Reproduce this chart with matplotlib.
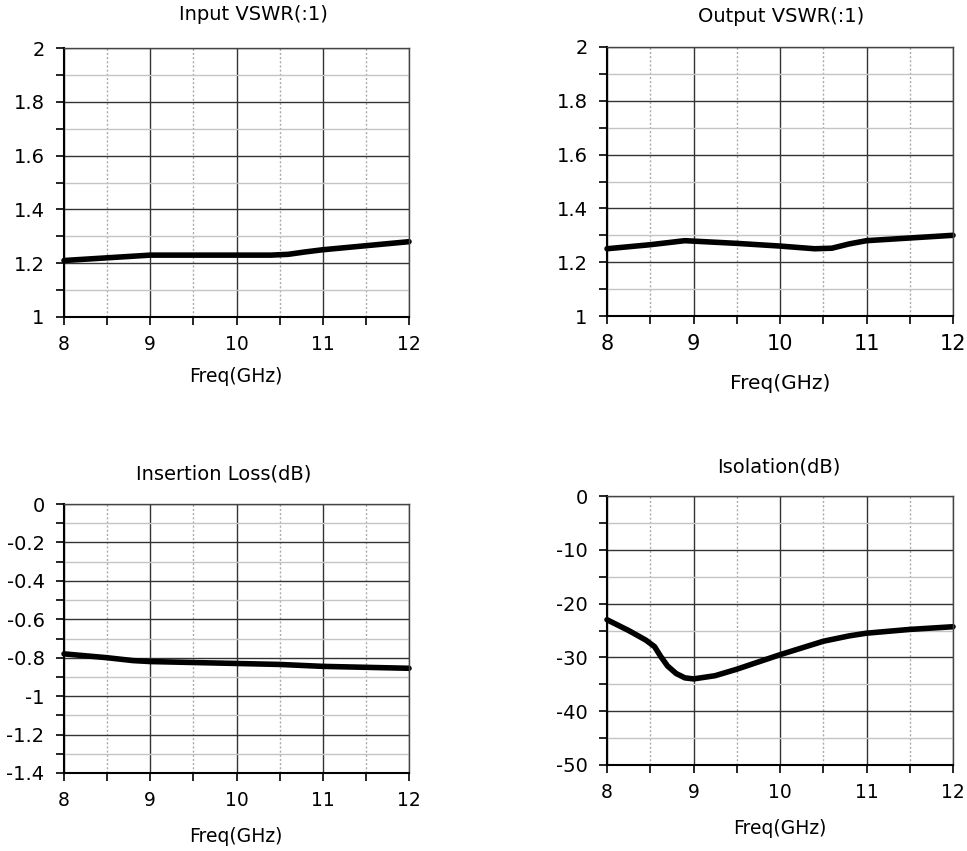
import matplotlib
matplotlib.use('Agg')
from matplotlib import pyplot as plt
from matplotlib.ticker import MultipleLocator, FuncFormatter

W, H = 967, 851

# data
freq_in = [8, 8.5, 9, 9.5, 10, 10.4, 10.6, 10.8, 11, 11.5, 12]
vswr_in = [1.21, 1.22, 1.23, 1.23, 1.23, 1.23, 1.233, 1.242, 1.25, 1.265, 1.28]

freq_out = [8, 8.5, 8.9, 9.5, 10, 10.4, 10.6, 10.8, 11, 11.5, 12]
vswr_out = [1.25, 1.265, 1.28, 1.27, 1.26, 1.25, 1.252, 1.268, 1.28, 1.29, 1.30]

freq_il = [8, 8.5, 8.8, 9, 10, 10.5, 11, 11.5, 12]
loss_il = [-0.78, -0.80, -0.815, -0.82, -0.83, -0.835, -0.845, -0.85, -0.855]

freq_iso = [8, 8.25, 8.45, 8.55, 8.62, 8.7, 8.8, 8.9, 9, 9.25, 9.5, 10, 10.5, 10.8, 11, 11.5, 12]
iso = [-23, -25, -26.8, -28, -29.8, -31.6, -33, -33.8, -34, -33.4, -32.2, -29.5, -27, -26, -25.5, -24.8, -24.3]

x_ticks = [8, 9, 10, 11, 12]

fig = plt.figure(figsize=(W / 100, H / 100), dpi=100)


def px_axes(l, t, r, b):
    return fig.add_axes([l / W, 1 - b / H, (r - l) / W, (b - t) / H])


def fmt(v, pos):
    s = ('%.1f' % v).rstrip('0').rstrip('.')
    return '0' if s == '-0' else s


def setup(ax, ylim, ymaj, xsize):
    ax.set_xlim(8, 12)
    ax.set_ylim(*ylim)
    ax.set_xticks(x_ticks)
    ax.xaxis.set_minor_locator(MultipleLocator(0.5))
    ax.yaxis.set_major_locator(MultipleLocator(ymaj))
    ax.yaxis.set_minor_locator(MultipleLocator(ymaj / 2))
    ax.yaxis.set_major_formatter(FuncFormatter(fmt))
    ax.grid(which='major', color='#333333', lw=1.0)
    ax.grid(which='minor', axis='y', color='#c4c4c4', lw=1.0)
    ax.grid(which='minor', axis='x', color='#aaaaaa', lw=1.0, ls=(0, (1.5, 1.5)))
    ax.set_axisbelow(True)
    ax.tick_params(which='both', direction='out', length=6, width=1.2, color='black')
    ax.tick_params(axis='y', labelsize=14, pad=8)
    ax.tick_params(axis='x', labelsize=xsize, pad=7)
    for s in ['left', 'bottom']:
        ax.spines[s].set_color('black')
        ax.spines[s].set_linewidth(1.5)
    for s in ['top', 'right']:
        ax.spines[s].set_color('#444444')
        ax.spines[s].set_linewidth(1.0)


def label(x, y, s, size):
    fig.text(x / W, 1 - y / H, s, ha='center', va='center', fontsize=size)


line = dict(color='black', lw=4, solid_joinstyle='round', solid_capstyle='round', clip_on=False)

ax1 = px_axes(64, 48, 409, 317)
setup(ax1, (1, 2), 0.2, 13.5)
ax1.plot(freq_in, vswr_in, **line)
label(253, 15, 'Input VSWR(:1)', 14)
label(236, 377, 'Freq(GHz)', 13.5)

ax2 = px_axes(607, 47, 953, 316)
setup(ax2, (1, 2), 0.2, 15)
ax2.plot(freq_out, vswr_out, **line)
label(781, 17, 'Output VSWR(:1)', 14)
label(780, 384, 'Freq(GHz)', 14.5)

ax3 = px_axes(64, 504, 409, 773)
setup(ax3, (-1.4, 0), 0.2, 13.5)
ax3.plot(freq_il, loss_il, **line)
label(224, 474, 'Insertion Loss(dB)', 14)
label(236, 836, 'Freq(GHz)', 13.5)

ax4 = px_axes(607, 496, 953, 765)
setup(ax4, (-50, 0), 10, 13.5)
ax4.plot(freq_iso, iso, **line)
label(779, 467, 'Isolation(dB)', 14)
label(780, 828, 'Freq(GHz)', 13.5)

fig.savefig('out.png', dpi=100)
